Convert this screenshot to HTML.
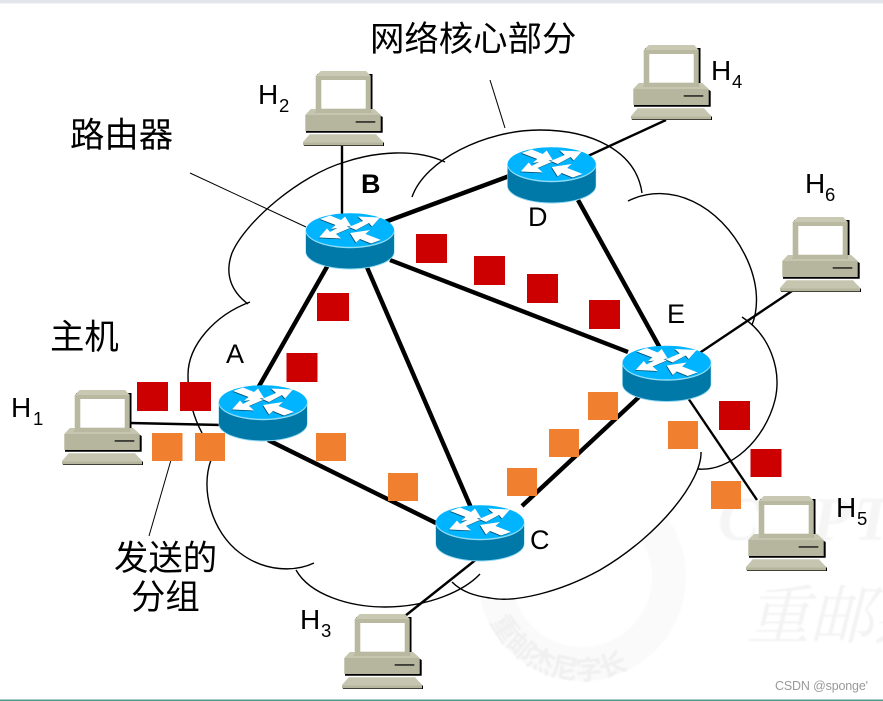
<!DOCTYPE html>
<html lang="zh">
<head>
<meta charset="utf-8">
<title>网络核心部分</title>
<style>
html,body{margin:0;padding:0;background:#fff;width:883px;height:701px;overflow:hidden}
svg{display:block}
.cjk{font-family:"Liberation Sans","Noto Sans CJK SC",sans-serif;font-size:34.4px;fill:#000}
.h{font-family:"Liberation Sans",sans-serif;font-size:28px;fill:#000}
.s{font-family:"Liberation Sans",sans-serif;font-size:18.5px;fill:#000}
.l{font-family:"Liberation Sans",sans-serif;font-size:27px;fill:#000}
.cl{fill:none;stroke:#000;stroke-width:1.4}
.th{stroke:#000;stroke-width:4.4;fill:none}
.tn{stroke:#000;stroke-width:2.4;fill:none}
.ld{stroke:#000;stroke-width:1;fill:none}
.r{fill:#cc0000}
.o{fill:#f08030}
</style>
</head>
<body>
<svg width="883" height="701" viewBox="0 0 883 701" xmlns="http://www.w3.org/2000/svg">
<defs>
  <filter id="bl" x="-5%" y="-5%" width="110%" height="110%"><feGaussianBlur stdDeviation="0.8"/></filter>
  <g id="pc">
    <path d="M14,3 L69.500,3 L69.500,40 L79.700,46 L79.700,61.800 L3,61.800 L3,46 L14,40Z" fill="#000"/>
    <path d="M8,65 L74,65 L81,72 L81,75 L1,75 L1,72Z" fill="#000"/>
    <path d="M12.700,5 L18,0 L63,0 L67.700,5 L67.700,42 L12.700,42Z" fill="#b9b8a0"/>
    <path d="M12.700,5 L18,0 L63,0 L67.700,5Z" fill="#c9c8b3"/>
    <rect x="18.300" y="9" width="44.400" height="28.700" fill="#fff"/>
    <path d="M8,38 L12.700,38 L12.700,42 L67.700,42 L67.700,38 L71,38 L77.700,44 L77.700,60 L2.300,60 L2.300,44Z" fill="#b6b59d"/>
    <path d="M2.300,44 L8,38 L12.700,38 L12.700,42 L67.700,42 L67.700,38 L71,38 L77.700,44Z" fill="#c6c5b0"/>
    <rect x="52.700" y="50.200" width="19.600" height="1.500" fill="#222"/>
    <path d="M6.700,63.300 L73,63.300 L80,71 L80,74.200 L0,74.200 L0,71Z" fill="#c6c5b0"/>
    <rect x="0" y="71.500" width="80" height="2.700" fill="#b6b59d"/>
  </g>
  <g id="ar">
    <polygon points="30,-12.500 22,-3.500 19,-7 6,0 -1,-3 13,-9 8,-13.500"/>
    <polygon points="-31,7.500 -23,-1.500 -20,2 -7,-5 0,-2 -14,4 -9,8.500"/>
    <polygon points="-30,-11 -20,-14.500 -9,-10 -5,-13.500 1,-4 -19,-1 -14.500,-5"/>
    <polygon points="31,10 21,13.500 10,9 6,12.500 0,3 20,0 15.500,4"/>
  </g>
  <g id="rt">
    <path d="M-44.500,0 L-44.500,22 A44.500,17.500 0 0 0 44.500,22 L44.500,0Z" fill="#8fd8f2"/>
    <path d="M-44,0 L-44,21.500 A44,17 0 0 0 44,21.500 L44,0Z" fill="#0079a9"/>
    <ellipse cx="0" cy="0.800" rx="44.500" ry="17.400" fill="#8fdcf5"/>
    <ellipse cx="0" cy="0" rx="44" ry="16.800" fill="#00b4ff"/>
    <use href="#ar" x="-0.600" y="0.700" fill="#004f70"/>
    <use href="#ar" fill="#fff"/>
  </g>
</defs>

<rect width="883" height="701" fill="#fff"/>
<rect width="883" height="3.400" fill="#e3e5ea"/>

<!-- watermark -->
<g filter="url(#bl)">
  <circle cx="582" cy="577" r="87" fill="none" stroke="#fafafa" stroke-width="34"/>
  <path id="arc" d="M486,610 A101,101 0 0 0 678,610" fill="none"/>
  <text font-family="'Liberation Sans','Noto Sans CJK SC',sans-serif" font-size="27" font-weight="700" fill="#f0f0f0"><textPath href="#arc" startOffset="5%">重邮杰尼字长</textPath></text>
  <text x="718" y="540" font-family="'Liberation Serif',serif" font-style="italic" font-weight="700" font-size="62" fill="#f5f5f5" letter-spacing="4">CUPT</text>
  <text x="746" y="638" font-family="'Noto Serif CJK SC','Noto Sans CJK SC',serif" font-style="italic" font-size="64" fill="#f3f3f3">重邮杰</text>
</g>
<path d="M701,452 C702,480 660,535 600,570 C560,592 515,603 490,598 C475,596 462,592 452,582 L452,420 L701,420Z" fill="#fff"/>

<!-- cloud -->
<path class="cl" d="M248,304 C232,292 224,275 232,253 C245,222 300,175 345,162 C375,152 415,148 445,162"/>
<path class="cl" d="M412,197 C425,160 485,130 540,130 C590,130 636,150 642,193"/>
<path class="cl" d="M628,201 C670,180 720,205 745,255 C760,285 758,310 752,325"/>
<path class="cl" d="M742,317 C770,335 782,370 775,400 C765,440 730,472 698,469"/>
<path class="cl" d="M701,452 C702,480 660,535 600,570 C560,592 515,603 490,598 C475,596 462,592 452,582"/>
<path class="cl" d="M296,570 C310,595 350,607 385,607 C430,607 465,590 480,574"/>
<path class="cl" d="M314,563 C295,572 265,572 240,553 C212,532 200,490 211,460"/>
<path class="cl" d="M250,302 C215,315 188,345 188,375 C188,400 195,420 202,433"/>

<!-- lead lines -->
<line class="ld" x1="190" y1="173" x2="306" y2="227"/>
<line class="ld" x1="490" y1="80" x2="505" y2="128"/>
<line class="ld" x1="171" y1="460" x2="149" y2="536"/>

<!-- thin links -->
<line class="tn" x1="130" y1="423" x2="222" y2="425"/>
<line class="tn" x1="342" y1="146" x2="342" y2="216"/>
<line class="tn" x1="666" y1="120" x2="588" y2="156"/>
<line class="tn" x1="792" y1="291" x2="698" y2="354"/>
<line class="tn" x1="688" y1="398" x2="757" y2="500"/>
<line class="tn" x1="405" y1="616" x2="478" y2="558"/>

<!-- thick links -->
<line class="th" x1="385" y1="222" x2="512" y2="175"/>
<line class="th" x1="328" y1="265" x2="258" y2="388"/>
<line class="th" x1="366" y1="265" x2="472" y2="510"/>
<line class="th" x1="390" y1="260" x2="628" y2="352"/>
<line class="th" x1="578" y1="200" x2="660" y2="348"/>
<line class="th" x1="268" y1="440" x2="438" y2="524"/>
<line class="th" x1="522" y1="506" x2="640" y2="396"/>

<!-- packets -->
<rect class="r" x="416" y="234" width="31" height="29"/>
<rect class="r" x="474" y="256" width="31" height="29"/>
<rect class="r" x="527" y="274" width="31" height="29"/>
<rect class="r" x="589" y="300" width="31" height="29"/>
<rect class="r" x="317" y="293" width="32" height="28"/>
<rect class="r" x="286.500" y="353" width="31" height="29"/>
<rect class="r" x="137" y="382" width="31" height="29"/>
<rect class="r" x="180" y="382" width="31" height="29"/>
<rect class="r" x="719" y="401" width="31" height="29"/>
<rect class="r" x="750.500" y="449" width="31" height="28"/>
<rect class="o" x="152" y="433" width="30.500" height="28"/>
<rect class="o" x="195" y="433" width="30" height="28"/>
<rect class="o" x="316" y="433" width="30" height="28"/>
<rect class="o" x="388" y="473" width="30" height="28"/>
<rect class="o" x="507" y="468" width="30" height="28"/>
<rect class="o" x="549" y="429" width="30" height="28"/>
<rect class="o" x="588" y="392" width="30" height="28"/>
<rect class="o" x="668" y="421" width="30" height="28"/>
<rect class="o" x="711" y="481" width="30" height="28"/>

<!-- routers -->
<use href="#rt" x="350" y="230"/>
<use href="#rt" x="551.700" y="164"/>
<use href="#rt" x="263" y="402"/>
<use href="#rt" x="666.700" y="362.500"/>
<use href="#rt" x="480" y="522"/>

<!-- hosts -->
<use href="#pc" x="62" y="390"/>
<use href="#pc" x="303" y="71"/>
<use href="#pc" x="342" y="614"/>
<use href="#pc" x="631" y="45"/>
<use href="#pc" x="746" y="496"/>
<use href="#pc" x="780" y="217"/>

<!-- labels -->
<text class="cjk" x="370" y="51">网络核心部分</text>
<text class="cjk" x="70" y="147">路由器</text>
<text class="cjk" x="50" y="349">主机</text>
<text class="cjk" x="114" y="570">发送的</text>
<text class="cjk" x="131" y="609">分组</text>

<text class="h" x="11" y="417">H</text><text class="s" x="33" y="425">1</text>
<text class="h" x="258" y="104">H</text><text class="s" x="279" y="112">2</text>
<text class="h" x="300" y="629">H</text><text class="s" x="321" y="637">3</text>
<text class="h" x="711" y="80">H</text><text class="s" x="732" y="88">4</text>
<text class="h" x="836" y="517">H</text><text class="s" x="857" y="525">5</text>
<text class="h" x="805" y="193">H</text><text class="s" x="825" y="201">6</text>

<text class="l" x="226" y="363">A</text>
<text class="l" x="361" y="193" font-weight="700">B</text>
<text class="l" x="530" y="549">C</text>
<text class="l" x="528" y="226">D</text>
<text class="l" x="667" y="323">E</text>

<text x="775" y="690" font-family="'Liberation Sans',sans-serif" font-size="12.500" fill="#9a9a9a" textLength="93">CSDN @sponge'</text>
<rect y="699.500" width="883" height="1.500" fill="#4f9a8c"/>
</svg>
</body>
</html>
